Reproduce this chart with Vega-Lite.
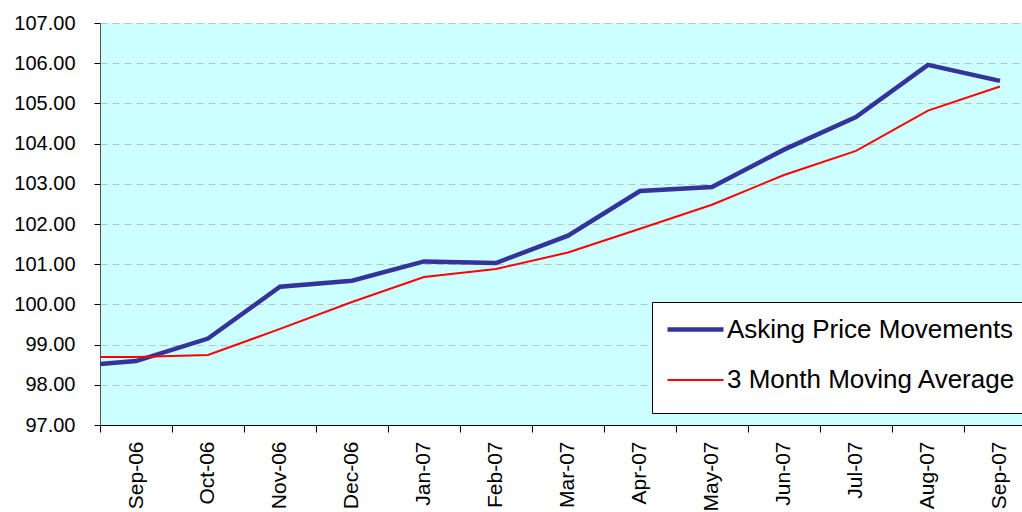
{
  "$schema": "https://vega.github.io/schema/vega-lite/v6.json",
  "width": 922,
  "height": 402,
  "autosize": "none",
  "padding": {"left": 100, "top": 23, "right": 0, "bottom": 87},
  "background": "white",
  "config": {
    "font": "Liberation Sans",
    "view": {"fill": "#CCFFFF", "stroke": null},
    "axis": {"labelFont": "Liberation Sans", "labelColor": "black", "tickColor": "black", "title": null}
  },
  "data": {
    "values": [
      {"t": 0, "month": "", "series": "Asking Price Movements", "value": 98.52},
      {"t": 0.5, "month": "Sep-06", "series": "Asking Price Movements", "value": 98.59},
      {"t": 1.5, "month": "Oct-06", "series": "Asking Price Movements", "value": 99.15},
      {"t": 2.5, "month": "Nov-06", "series": "Asking Price Movements", "value": 100.44},
      {"t": 3.5, "month": "Dec-06", "series": "Asking Price Movements", "value": 100.59},
      {"t": 4.5, "month": "Jan-07", "series": "Asking Price Movements", "value": 101.07},
      {"t": 5.5, "month": "Feb-07", "series": "Asking Price Movements", "value": 101.03},
      {"t": 6.5, "month": "Mar-07", "series": "Asking Price Movements", "value": 101.71},
      {"t": 7.5, "month": "Apr-07", "series": "Asking Price Movements", "value": 102.82},
      {"t": 8.5, "month": "May-07", "series": "Asking Price Movements", "value": 102.92},
      {"t": 9.5, "month": "Jun-07", "series": "Asking Price Movements", "value": 103.85},
      {"t": 10.5, "month": "Jul-07", "series": "Asking Price Movements", "value": 104.66},
      {"t": 11.5, "month": "Aug-07", "series": "Asking Price Movements", "value": 105.96},
      {"t": 12.5, "month": "Sep-07", "series": "Asking Price Movements", "value": 105.56},
      {"t": 0, "month": "", "series": "3 Month Moving Average", "value": 98.69},
      {"t": 0.5, "month": "Sep-06", "series": "3 Month Moving Average", "value": 98.69},
      {"t": 1.5, "month": "Oct-06", "series": "3 Month Moving Average", "value": 98.74},
      {"t": 2.5, "month": "Nov-06", "series": "3 Month Moving Average", "value": 99.39},
      {"t": 3.5, "month": "Dec-06", "series": "3 Month Moving Average", "value": 100.06},
      {"t": 4.5, "month": "Jan-07", "series": "3 Month Moving Average", "value": 100.68},
      {"t": 5.5, "month": "Feb-07", "series": "3 Month Moving Average", "value": 100.88},
      {"t": 6.5, "month": "Mar-07", "series": "3 Month Moving Average", "value": 101.29},
      {"t": 7.5, "month": "Apr-07", "series": "3 Month Moving Average", "value": 101.88},
      {"t": 8.5, "month": "May-07", "series": "3 Month Moving Average", "value": 102.48},
      {"t": 9.5, "month": "Jun-07", "series": "3 Month Moving Average", "value": 103.22},
      {"t": 10.5, "month": "Jul-07", "series": "3 Month Moving Average", "value": 103.82},
      {"t": 11.5, "month": "Aug-07", "series": "3 Month Moving Average", "value": 104.82},
      {"t": 12.5, "month": "Sep-07", "series": "3 Month Moving Average", "value": 105.42}
    ]
  },
  "encoding": {
    "x": {
      "field": "t",
      "type": "quantitative",
      "scale": {"domain": [0, 12.806], "nice": false, "zero": false},
      "axis": {
        "values": [0, 1, 2, 3, 4, 5, 6, 7, 8, 9, 10, 11, 12],
        "labelExpr": "['Sep-06','Oct-06','Nov-06','Dec-06','Jan-07','Feb-07','Mar-07','Apr-07','May-07','Jun-07','Jul-07','Aug-07','Sep-07'][datum.value]",
        "labelOffset": 36,
        "labelAngle": -90,
        "labelFontSize": 21,
        "labelPadding": 9,
        "labelOverlap": false,
        "labelFlush": false,
        "labelBound": false,
        "tickSize": 7,
        "domainColor": "black",
        "grid": false
      }
    },
    "y": {
      "field": "value",
      "type": "quantitative",
      "scale": {"domain": [97, 107], "nice": false, "zero": false},
      "axis": {
        "values": [97, 98, 99, 100, 101, 102, 103, 104, 105, 106, 107],
        "format": ".2f",
        "labelFontSize": 20,
        "labelPadding": 19,
        "tickSize": 6,
        "domainColor": "#555555",
        "grid": true,
        "gridColor": "#C0C0C0",
        "gridDash": [7, 5],
        "gridWidth": 1
      }
    },
    "color": {
      "field": "series",
      "type": "nominal",
      "scale": {"domain": ["Asking Price Movements", "3 Month Moving Average"], "range": ["#333399", "#FF0000"]},
      "legend": {
        "title": " ",
        "titleOrient": "bottom",
        "titleFontSize": 8,
        "titlePadding": 1,
        "orient": "none",
        "legendX": 552,
        "legendY": 279,
        "fillColor": "white",
        "strokeColor": "black",
        "padding": 11,
        "rowPadding": 22,
        "symbolType": "M-2,0H2",
        "symbolSize": 784,
        "symbolOffset": 16,
        "symbolStrokeWidth": 3,
        "labelFontSize": 26,
        "labelFont": "Liberation Sans",
        "labelColor": "black",
        "labelOffset": 15,
        "labelLimit": 500
      }
    },
    "strokeWidth": {
      "field": "series",
      "type": "nominal",
      "scale": {"domain": ["Asking Price Movements", "3 Month Moving Average"], "range": [4.5, 2]},
      "legend": null
    }
  },
  "layer": [
    {"transform": [{"filter": "datum.series == 'Asking Price Movements'"}], "mark": {"type": "line", "strokeJoin": "miter"}},
    {"transform": [{"filter": "datum.series == '3 Month Moving Average'"}], "mark": {"type": "line"}}
  ]
}
